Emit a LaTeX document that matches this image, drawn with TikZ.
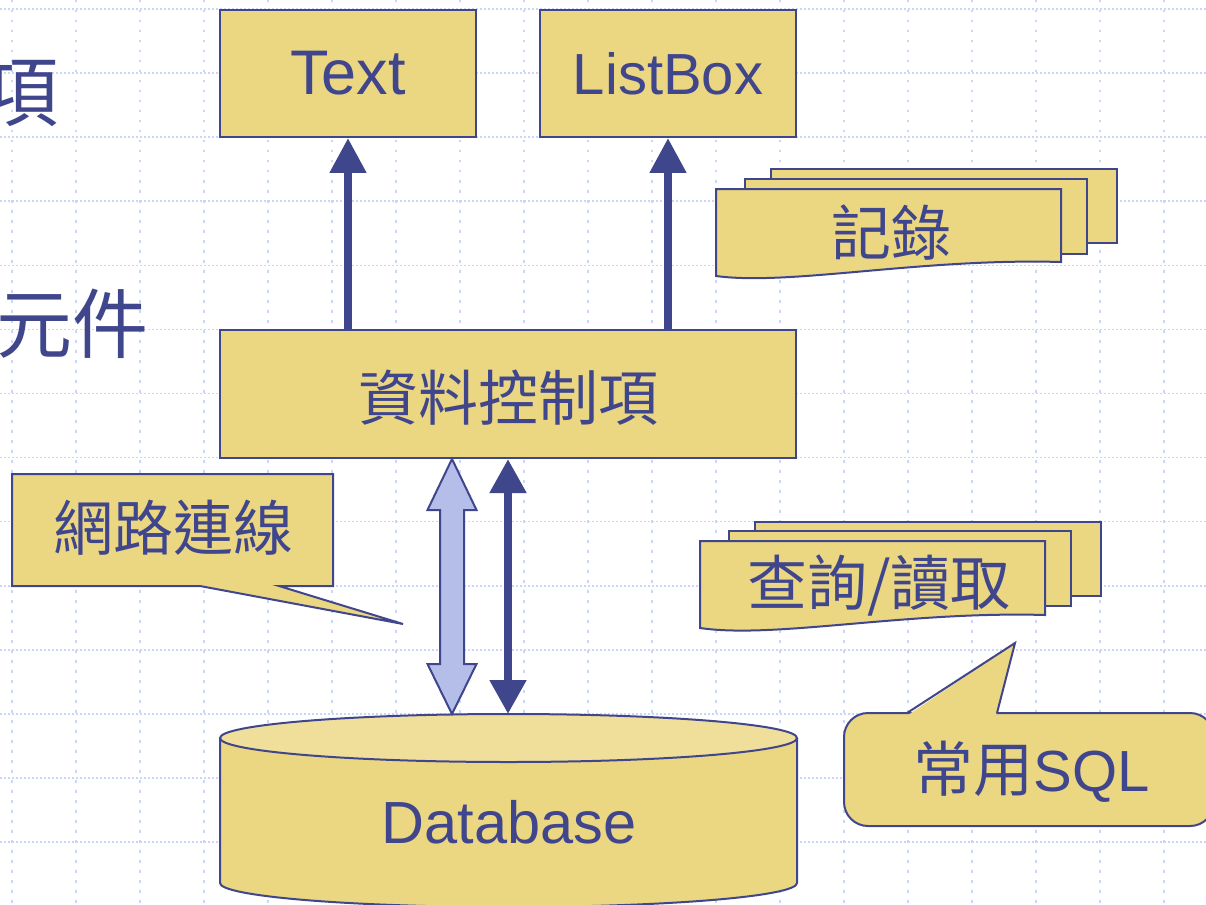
\documentclass[tikz,border=0pt]{standalone}
\usepackage{fontspec}
\setmainfont{Liberation Sans}
\newfontfamily\cjk{Noto Sans CJK TC}
\usetikzlibrary{arrows.meta,calc}
\definecolor{boxY}{RGB}{235,214,130}
\definecolor{topY}{RGB}{240,223,155}
\definecolor{navy}{RGB}{64,70,140}
\definecolor{lblue}{RGB}{180,190,232}
\definecolor{gridc}{RGB}{202,214,247}
\begin{document}
\begin{tikzpicture}[x=1pt,y=-1pt,
  gridh/.style={gridc, line width=1.6pt, dash pattern=on 2pt off 2pt},
  gridv/.style={gridc, line width=1.6pt, dash pattern=on 2.5pt off 7.5pt},
  box/.style={draw=navy, fill=boxY, line width=2pt, text=navy, inner sep=0pt},
  doc/.style={draw=navy, fill=boxY, line width=2pt},
  lat/.style={font=\fontsize{58}{60}\selectfont},
  zh/.style={font=\fontsize{60}{62}\selectfont\cjk, text=navy, inner sep=0pt},
  bigzh/.style={font=\fontsize{76}{78}\selectfont\cjk, text=navy, inner sep=0pt},
  darrow/.style={navy, line width=8pt, -{Triangle[width=35pt,length=35pt]}},
  ddarrow/.style={navy, line width=8pt, {Triangle[width=35pt,length=34pt]}-{Triangle[width=35pt,length=34pt]}}
]
\clip (0,0) rectangle (1206,904);
\fill[white] (0,0) rectangle (1206,904);
% background grid
\foreach \k in {0,...,13} \draw[gridh] (0,9+64.08*\k) -- (1206,9+64.08*\k);
\foreach \k in {0,...,18} \draw[gridv] (12+64*\k,0) -- (12+64*\k,904);

% slide texts at the left edge, cut off by the picture's edge as in the reference
\node[bigzh, anchor=east] (lefta) at (59,94) {項};
\node[bigzh, anchor=east] (leftb) at (149,324) {元件};

% boxes
\node[box, lat, font=\fontsize{63}{65}\selectfont, minimum width=256pt, minimum height=127pt] (txt) at (348,73.5) {Text};
\node[box, lat, minimum width=256pt, minimum height=127pt] (lst) at (668,73.5) {ListBox};
\node[box, minimum width=576pt, minimum height=128pt] (ctrl) at (508,394) {};
\node[zh] (ctrlt) at (508,398) {資料控制項};

% up arrows
\draw[darrow] (ctrl.north -| txt.south) -- (txt.south);
\draw[darrow] (ctrl.north -| lst.south) -- (lst.south);

% database cylinder
\coordinate (dbtop) at (508.5,714);
\fill[boxY] (220,738) -- (220,883) arc[start angle=180, end angle=0, x radius=288.5, y radius=24] -- (797,738) -- cycle;
\draw[navy, line width=2pt] (220,738) -- (220,883) arc[start angle=180, end angle=0, x radius=288.5, y radius=24] -- (797,738);
\draw[navy, fill=topY, line width=2pt] (508.5,738) ellipse [x radius=288.5, y radius=24];
\node[text=navy, inner sep=0pt, font=\fontsize{59.5}{61}\selectfont] (db) at (509,822) {Database};

% arrows between control and database
\draw[ddarrow] (ctrl.south) -- (dbtop -| ctrl.south);
\coordinate (la) at ($(ctrl.south)+(-56,0)$);
\coordinate (lb) at (la |- dbtop);
\draw[navy, fill=lblue, line width=2pt, line join=miter]
  (la) -- ($(la)+(24.5,51)$) -- ($(la)+(12,51)$) -- ($(lb)+(12,-50)$) -- ($(lb)+(24.5,-50)$)
  -- (lb) -- ($(lb)+(-24.5,-50)$) -- ($(lb)+(-12,-50)$) -- ($(la)+(-12,51)$) -- ($(la)+(-24.5,51)$) -- cycle;

% callout 網路連線
\coordinate (tipa) at (403,624);
\draw[doc, line join=miter] (12,474) -- (333,474) -- (333,586) -- (279,586) -- (tipa) -- (200,586) -- (12,586) -- cycle;
\node[zh] (net) at (173,528) {網路連線};

% document stack 記錄
\draw[doc] (771,169) rectangle (1117,243);
\draw[doc] (745,179) rectangle (1087,254);
\draw[doc] (716,189) -- (1061,189) -- (1061,262) .. controls (920,258) and (790,286) .. (716,276) -- cycle;
\node[zh] (rec) at (891,233) {記錄};

% document stack 查詢/讀取
\draw[doc] (755,522) rectangle (1101,596);
\draw[doc] (729,531) rectangle (1071,606);
\draw[doc] (700,541) -- (1045,541) -- (1045,615) .. controls (905,611) and (775,639) .. (700,628) -- cycle;
\node[zh] (qry) at (879,585) {查詢/讀取};

% callout 常用SQL
\coordinate (tipb) at (1015,643);
\draw[doc, rounded corners=24pt] (844,713) rectangle (1214,826);
\fill[boxY] (908,715) -- (tipb) -- (996,715) -- cycle;
\draw[navy, line width=2pt, line join=miter] (907,713) -- (tipb) -- (997,713);
\node[zh] (sql) at (1032,772) {常用{\fontsize{58}{60}\selectfont\rmfamily SQL}};
\end{tikzpicture}
\end{document}
